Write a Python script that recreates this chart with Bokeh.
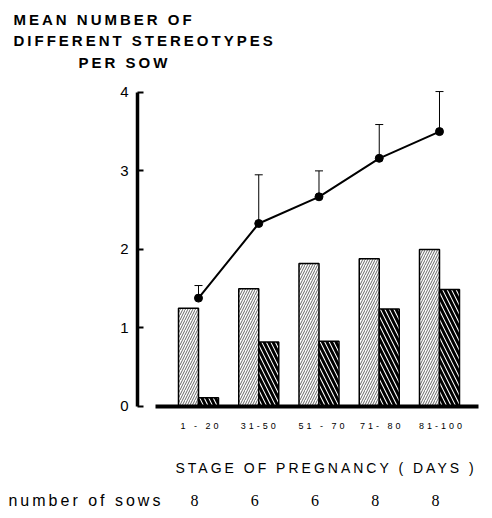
from bokeh.plotting import figure
from bokeh.models import (Range1d, LinearAxis, FixedTicker, Whisker, TeeHead,
                          ColumnDataSource, Label, LabelSet)
from bokeh.transform import dodge
from bokeh.embed import file_html
from bokeh.resources import INLINE

# ---- data ----
stages = ["1 - 20", "31-50", "51 - 70", "71- 80", "81-100"]
groups = [0, 1, 2, 3, 4]
stereo_mean = [1.38, 2.33, 2.67, 3.16, 3.50]
stereo_se = [0.16, 0.62, 0.33, 0.43, 0.51]
bars_light = [1.25, 1.50, 1.82, 1.88, 2.00]
bars_dark = [0.11, 0.82, 0.83, 1.24, 1.49]
n_sows = [8, 6, 6, 8, 8]
y_ticks = [0, 1, 2, 3, 4]

FONT = "Liberation Sans"

src = ColumnDataSource(dict(
    x=groups,
    light=bars_light,
    dark=bars_dark,
    mean=stereo_mean,
    upper=[m + s for m, s in zip(stereo_mean, stereo_se)],
    n=[str(v) for v in n_sows],
))

p = figure(width=484, height=510, output_backend="svg", toolbar_location=None,
           x_range=Range1d(-3.2863, 4.7469), y_range=Range1d(-1.3242, 5.1693),
           min_border=0, x_axis_location=None, y_axis_location=None)
p.outline_line_color = None
p.xgrid.visible = False
p.ygrid.visible = False
p.background_fill_color = "white"
p.border_fill_color = "white"

# y axis (drawn at its own location inside the canvas)
yax = LinearAxis(ticker=FixedTicker(ticks=y_ticks), bounds=(0, 4), fixed_location=-1.0124)
yax.axis_line_width = 3.5
yax.major_tick_in = 6
yax.major_tick_out = 0
yax.major_tick_line_width = 2
yax.minor_tick_line_color = None
yax.major_label_standoff = 9
yax.major_label_text_font = FONT
yax.major_label_text_font_size = "15px"
yax.major_label_text_color = "black"
p.add_layout(yax, "left")

# x axis (thick baseline); label anchors nudged left to compensate letter spacing
shift = 6.5 / 60.25
tick_pos = [g - shift for g in groups]
xax = LinearAxis(ticker=FixedTicker(ticks=tick_pos), bounds=(-0.714, 4.65), fixed_location=0)
xax.axis_line_width = 4
xax.major_tick_in = 0
xax.major_tick_out = 0
xax.minor_tick_line_color = None
xax.major_label_standoff = 15
xax.major_label_overrides = {t: s for t, s in zip(tick_pos, stages)}
xax.major_label_text_font = FONT
xax.major_label_text_font_size = "9px"
xax.major_label_text_color = "black"
p.add_layout(xax, "below")

# bars
bw = 0.332
p.vbar(x=dodge("x", -bw / 2, range=p.x_range), top="light", bottom=0, width=bw,
       source=src, fill_color="white", line_color="black", line_width=1.5,
       hatch_pattern="/", hatch_scale=5, hatch_weight=0.6, hatch_color="black")
p.vbar(x=dodge("x", bw / 2, range=p.x_range), top="dark", bottom=0, width=bw,
       source=src, fill_color="white", line_color="black", line_width=1.5,
       hatch_pattern="\\", hatch_scale=9, hatch_weight=3.0, hatch_color="black")

# error bars (upward only)
wh = Whisker(source=src, base="x", upper="upper", lower="mean", dimension="height",
             line_width=1, line_color="black",
             upper_head=TeeHead(size=8, line_width=1, line_color="black"),
             lower_head=None)
p.add_layout(wh)

# line
p.line("x", "mean", source=src, line_width=2, line_color="black")
p.scatter("x", "mean", source=src, size=8, fill_color="black", line_color="black")

# texts
title_lines = ["MEAN NUMBER OF", "DIFFERENT STEREOTYPES", "PER SOW"]
title_x = [-3.071, -3.071, -1.992]
title_y = [4.927, 4.654, 4.380]
for t, tx, ty in zip(title_lines, title_x, title_y):
    p.add_layout(Label(x=tx, y=ty, text=t, text_font=FONT, text_font_size="15px",
                       text_font_style="bold", text_baseline="middle",
                       text_align="left", text_color="black"))

p.add_layout(Label(x=-0.382, y=-0.777, text="STAGE OF PREGNANCY ( DAYS )",
                   text_font=FONT, text_font_size="14px", text_baseline="middle",
                   text_align="left", text_color="black"))
p.add_layout(Label(x=-3.154, y=-1.197, text="number of sows",
                   text_font=FONT, text_font_size="16px", text_baseline="middle",
                   text_align="left", text_color="black"))
p.add_layout(LabelSet(source=src, x="x", y=-1.197, text="n", x_offset=-4,
                      text_font=FONT, text_font_size="16px", text_baseline="middle",
                      text_align="center", text_color="black"))

p.styles = {"letter-spacing": "3px"}

open("out.html", "w").write(file_html(p, INLINE))
